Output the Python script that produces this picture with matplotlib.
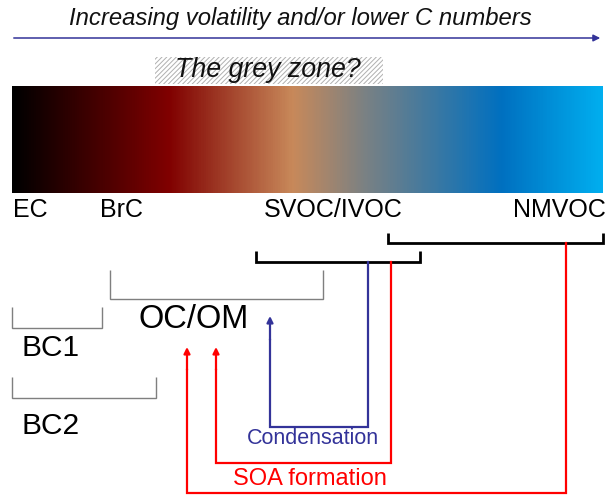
import matplotlib
matplotlib.use("Agg")
import matplotlib.pyplot as plt
import numpy as np
from matplotlib.colors import LinearSegmentedColormap
from matplotlib.patches import Rectangle

plt.rcParams['font.family'] = ['Liberation Sans', 'DejaVu Sans']

# ---- content ----
title_text = "Increasing volatility and/or lower C numbers"
grey_zone_text = "The grey zone?"
species_labels = ["EC", "BrC", "SVOC/IVOC", "NMVOC"]
species_x = [13, 100, 264, 606]
species_ha = ["left", "left", "left", "right"]
gradient_stops = [0.0, 0.264, 0.475, 0.6, 0.83, 1.0]
gradient_colors = ["#000000", "#800000", "#C8895A", "#798184", "#0070C0", "#00AEEF"]
group_labels = ["OC/OM", "BC1", "BC2"]
process_labels = ["Condensation", "SOA formation"]

W, H = 614, 495
fig = plt.figure(figsize=(W / 100, H / 100), dpi=100)
ax = fig.add_axes([0, 0, 1, 1])
ax.set_xlim(0, W)
ax.set_ylim(H, 0)
ax.axis('off')

# title and arrow
ax.text(69, 19, title_text, style='italic', fontsize=17.2, ha='left', va='center', color='#111111')
ax.annotate('', xy=(603, 38), xytext=(11, 38),
            arrowprops=dict(arrowstyle='-|>', color='#333399', lw=1.1, mutation_scale=10))

# grey zone hatched box
plt.rcParams['hatch.linewidth'] = 0.7
ax.add_patch(Rectangle((155, 57), 228, 27, facecolor='white', edgecolor='#B0B0B0',
                       lw=0, hatch='///////'))
ax.text(175, 70, grey_zone_text, style='italic', fontsize=19.3, ha='left', va='center', color='#111111')

# gradient
cmap = LinearSegmentedColormap.from_list('g', list(zip(gradient_stops, gradient_colors)))
grad = np.linspace(0, 1, 600)[None, :]
ax.imshow(grad, cmap=cmap, aspect='auto', extent=(12, 603, 193, 86), interpolation='bilinear')

# species labels
for lab, x, ha in zip(species_labels, species_x, species_ha):
    ax.text(x, 210, lab, fontsize=18, ha=ha, va='center', color='black')

def bracket(x0, x1, ytop, ybot, color, lw):
    ax.plot([x0, x0, x1, x1], [ytop, ybot, ybot, ytop], color=color, lw=lw,
            solid_joinstyle='miter', solid_capstyle='butt')

# black brackets
bracket(388, 603, 233, 243, 'black', 2.0)
bracket(256, 420, 251, 262, 'black', 2.0)
# grey brackets
bracket(110, 323, 270, 299, '#7F7F7F', 1.0)
bracket(12, 102, 307, 328, '#7F7F7F', 1.0)
bracket(12, 156, 377, 398, '#7F7F7F', 1.0)

# group labels
ax.text(138, 320, group_labels[0], fontsize=23.5, ha='left', va='center', color='black')
ax.text(22, 348, group_labels[1], fontsize=21.5, ha='left', va='center', color='black')
ax.text(22, 426, group_labels[2], fontsize=21.5, ha='left', va='center', color='black')

# process arrows
def path_arrow(xs, ys, color):
    ax.plot(xs[:-1], ys[:-1], color=color, lw=1.6, solid_joinstyle='miter')
    ax.annotate('', xy=(xs[-1], ys[-1]), xytext=(xs[-2], ys[-2]),
                arrowprops=dict(arrowstyle='-|>', color=color, lw=1.6, mutation_scale=9,
                                shrinkA=0, shrinkB=0))

path_arrow([368, 368, 270, 270, 270], [262, 427, 427, 340, 316], '#333399')
path_arrow([391, 391, 216, 216, 216], [262, 463, 463, 370, 347], '#FF0000')
path_arrow([566, 566, 187, 187, 187], [243, 493, 493, 370, 347], '#FF0000')

ax.text(247, 438, process_labels[0], fontsize=15.5, ha='left', va='center', color='#333399')
ax.text(233, 479, process_labels[1], fontsize=17, ha='left', va='center', color='#FF0000')

fig.savefig('out.png', dpi=100)
